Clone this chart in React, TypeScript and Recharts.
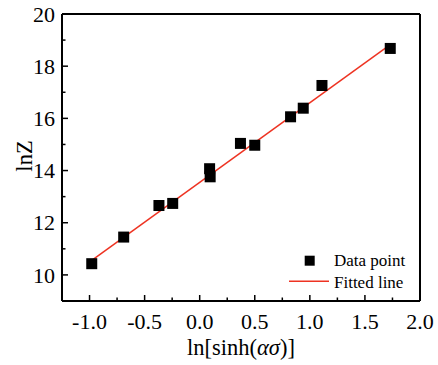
import React from 'react';
import { ComposedChart, Scatter, Line, XAxis, YAxis, ReferenceLine, Legend } from 'recharts';

const xValues = [-0.98, -0.69, -0.37, -0.245, 0.09, 0.095, 0.37, 0.5, 0.825, 0.94, 1.11, 1.73];
const yValues = [10.43, 11.45, 12.66, 12.74, 14.07, 13.76, 15.04, 14.97, 16.06, 16.39, 17.26, 18.68];
const fitX = [-0.98, 1.73];
const fitY = [10.56, 18.83];

const xMajorTicks = [-1.0, -0.5, 0.0, 0.5, 1.0, 1.5, 2.0];
const xMinorTicks = [-0.75, -0.25, 0.25, 0.75, 1.25, 1.75];
const yMajorTicks = [10, 12, 14, 16, 18, 20];
const yMinorTicks = [9, 11, 13, 15, 17, 19];

const pointData = xValues.map((x, i) => ({ x, y: yValues[i] }));
const fitData = fitX.map((x, i) => ({ x, y: fitY[i] }));
const xTicks = [...xMajorTicks, ...xMinorTicks].sort((a, b) => a - b);
const yTicks = [...yMajorTicks, ...yMinorTicks].sort((a, b) => a - b);

const FONT = 'Liberation Serif';
const RED = '#ee3322';
const textStyle = { fontFamily: FONT };

const XTick = (props: any) => {
  const { x, y, payload } = props;
  const v = payload.value;
  const major = xMajorTicks.some((m) => Math.abs(m - v) < 1e-9);
  return (
    <g>
      <line x1={x} x2={x} y1={y} y2={y - (major ? 6 : 3.5)} stroke="#000" strokeWidth={1.5} />
      {major && (
        <text x={x} y={y + 28} textAnchor="middle" style={textStyle} fontSize={22} fill="#000">
          {v.toFixed(1)}
        </text>
      )}
    </g>
  );
};

const YTick = (props: any) => {
  const { x, y, payload } = props;
  const v = payload.value;
  const major = yMajorTicks.some((m) => Math.abs(m - v) < 1e-9);
  return (
    <g>
      <line x1={x} x2={x + (major ? 6 : 3.5)} y1={y} y2={y} stroke="#000" strokeWidth={1.5} />
      {major && (
        <text x={x - 7} y={y} dy="0.35em" textAnchor="end" style={textStyle} fontSize={22} fill="#000">
          {String(v)}
        </text>
      )}
    </g>
  );
};

const SquareShape = (props: any) => {
  const { cx, cy } = props;
  return <rect x={cx - 5.5} y={cy - 5.5} width={11} height={11} fill="#000" />;
};

const LegendContent = () => (
  <svg width={150} height={55} style={{ display: 'block' }}>
    <rect x={24.7} y={10.7} width={10} height={10} fill="#000" />
    <text x={54} y={21} style={textStyle} fontSize={17} fill="#000">Data point</text>
    <line x1={9} x2={49} y1={36.3} y2={36.3} stroke={RED} strokeWidth={1.5} />
    <text x={54} y={43} style={textStyle} fontSize={17} fill="#000">Fitted line</text>
  </svg>
);

export default function App() {
  return (
    <div style={{ position: 'absolute', left: 0, top: 0, width: 438, height: 365, background: '#fff', fontFamily: FONT }}>
      <ComposedChart
        width={438}
        height={365}
        margin={{ top: 14, right: 18, bottom: 0, left: 0 }}
      >
        <XAxis
          type="number"
          dataKey="x"
          domain={[-1.25, 2.0]}
          ticks={xTicks}
          interval={0}
          height={64}
          tickSize={0}
          tickMargin={0}
          tickLine={false}
          axisLine={{ stroke: '#000', strokeWidth: 2 }}
          tick={<XTick />}
          allowDataOverflow
        />
        <YAxis
          type="number"
          dataKey="y"
          domain={[9, 20]}
          ticks={yTicks}
          interval={0}
          width={62}
          tickSize={0}
          tickMargin={0}
          tickLine={false}
          axisLine={{ stroke: '#000', strokeWidth: 2 }}
          tick={<YTick />}
          allowDataOverflow
        />
        <ReferenceLine y={20} stroke="#000" strokeWidth={2} />
        <ReferenceLine x={2.0} stroke="#000" strokeWidth={2} />
        <Line
          data={fitData}
          dataKey="y"
          type="linear"
          stroke={RED}
          strokeWidth={1.5}
          dot={false}
          activeDot={false}
          isAnimationActive={false}
          legendType="none"
        />
        <Scatter
          data={pointData}
          dataKey="y"
          shape={<SquareShape />}
          isAnimationActive={false}
        />
        <Legend
          layout="horizontal"
          verticalAlign="middle"
          align="center"
          content={<LegendContent />}
          wrapperStyle={{ position: 'absolute', left: 280, top: 245, width: 150, height: 55 }}
        />
      </ComposedChart>
      <svg
        width={438}
        height={365}
        style={{ position: 'absolute', left: 0, top: 0, pointerEvents: 'none' }}
      >
        <text
          x={241}
          y={355}
          textAnchor="middle"
          style={textStyle}
          fontSize={22.5}
          fill="#000"
        >
          ln[sinh(<tspan fontStyle="italic">ασ</tspan>)]
        </text>
        <text
          transform="translate(31.5,156) rotate(-90)"
          textAnchor="middle"
          style={textStyle}
          fontSize={22.5}
          fill="#000"
        >
          lnZ
        </text>
      </svg>
    </div>
  );
}
